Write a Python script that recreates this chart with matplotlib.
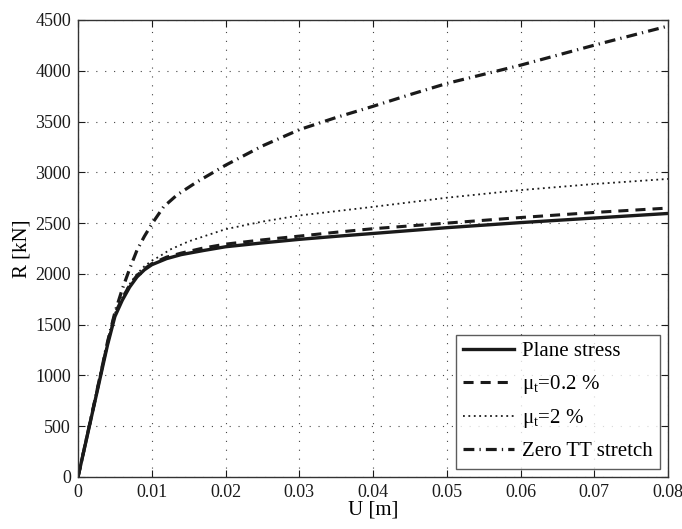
import matplotlib
matplotlib.use("Agg")
import matplotlib.pyplot as plt

plt.rcParams['font.family'] = ['Liberation Serif', 'DejaVu Serif']
plt.rcParams['mathtext.fontset'] = 'custom'
plt.rcParams['mathtext.rm'] = 'Liberation Serif'
plt.rcParams['mathtext.it'] = 'Liberation Serif'

# Data
u_plane = [0, 0.002, 0.004, 0.005, 0.006, 0.007, 0.008, 0.009, 0.010, 0.012, 0.014,
           0.017, 0.020, 0.025, 0.030, 0.035, 0.040, 0.050, 0.060, 0.070, 0.080]
r_plane = [0, 650, 1300, 1580, 1740, 1870, 1970, 2040, 2090, 2150, 2190,
           2230, 2267, 2305, 2340, 2370, 2398, 2455, 2505, 2550, 2595]

u_mu02 = [0, 0.002, 0.004, 0.005, 0.006, 0.007, 0.008, 0.009, 0.010, 0.012, 0.014,
          0.017, 0.020, 0.025, 0.030, 0.035, 0.040, 0.050, 0.060, 0.070, 0.080]
r_mu02 = [0, 655, 1320, 1610, 1760, 1890, 1985, 2050, 2100, 2165, 2205,
          2255, 2293, 2335, 2372, 2410, 2445, 2500, 2555, 2605, 2648]

u_mu2 = [0, 0.002, 0.004, 0.005, 0.006, 0.007, 0.008, 0.009, 0.010, 0.011, 0.0125,
         0.015, 0.020, 0.025, 0.030, 0.040, 0.050, 0.060, 0.070, 0.080]
r_mu2 = [0, 655, 1320, 1610, 1770, 1900, 2000, 2075, 2130, 2170, 2240,
         2320, 2440, 2515, 2575, 2660, 2750, 2825, 2885, 2935]

u_zero = [0, 0.002, 0.004, 0.005, 0.006, 0.007, 0.008, 0.009, 0.010, 0.0116, 0.0134,
          0.016, 0.020, 0.025, 0.030, 0.035, 0.040, 0.045, 0.050, 0.060, 0.070, 0.080]
r_zero = [0, 660, 1330, 1620, 1850, 2050, 2234, 2370, 2490, 2660, 2776,
          2900, 3070, 3260, 3420, 3540, 3650, 3765, 3875, 4055, 4252, 4440]

labels = ['Plane stress', 'μ$_{\\mathregular{t}}$=0.2 %', 'μ$_{\\mathregular{t}}$=2 %', 'Zero TT stretch']
xticks = [0, 0.01, 0.02, 0.03, 0.04, 0.05, 0.06, 0.07, 0.08]
xticklabels = ['0', '0.01', '0.02', '0.03', '0.04', '0.05', '0.06', '0.07', '0.08']
yticks = list(range(0, 4501, 500))

fig = plt.figure(figsize=(6.82, 5.29), dpi=100)
ax = fig.add_axes([0.1144, 0.0983, 0.8651, 0.8639])

ax.plot(u_plane, r_plane, color='#1a1a1a', lw=2.4, linestyle='-', label=labels[0])
ax.plot(u_mu02, r_mu02, color='#1a1a1a', lw=2.2, dashes=(3.3, 2.3), label=labels[1])
ax.plot(u_mu2, r_mu2, color='#1a1a1a', lw=1.3, dashes=(1.0, 2.0), label=labels[2])
ax.plot(u_zero, r_zero, color='#1a1a1a', lw=2.3, dashes=(3.4, 1.6, 0.4, 1.6), label=labels[3])

ax.set_xlim(0, 0.08)
ax.set_ylim(0, 4500)
ax.set_xticks(xticks)
ax.set_xticklabels(xticklabels)
ax.set_yticks(yticks)
ax.tick_params(direction='in', length=5, width=0.8, top=True, right=True,
               labelsize=13, colors='#1a1a1a', pad=5)
for s in ax.spines.values():
    s.set_linewidth(1.0)
    s.set_color('#333333')
ax.grid(True, color='#444444', linestyle=(0, (1, 7)), linewidth=0.8)
ax.set_xlabel('U [m]', fontsize=15, labelpad=0)
ax.set_ylabel('R [kN]', fontsize=15, labelpad=3)

leg = ax.legend(loc='lower right', fontsize=15, frameon=True, fancybox=False,
                edgecolor='#333333', handlelength=2.45, handletextpad=0.35,
                borderpad=0.35, labelspacing=0.55, borderaxespad=0.4)
leg.get_frame().set_linewidth(1.0)

fig.savefig('out.png', dpi=100)
